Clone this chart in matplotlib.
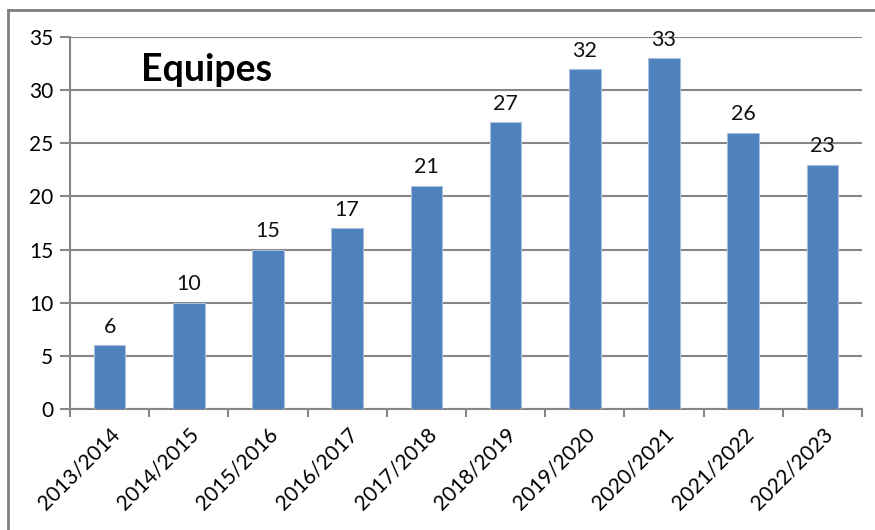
import matplotlib.pyplot as plt
from matplotlib.lines import Line2D
import numpy as np

seasons = ["2013/2014", "2014/2015", "2015/2016", "2016/2017", "2017/2018",
           "2018/2019", "2019/2020", "2020/2021", "2021/2022", "2022/2023"]
teams = [6, 10, 15, 17, 21, 27, 32, 33, 26, 23]

plt.rcParams['font.family'] = ['Lato', 'DejaVu Sans']

fig = plt.figure(figsize=(8.75, 5.3), dpi=100)
ax = fig.add_axes([70 / 875, 1 - 409 / 530, 792 / 875, 372 / 530])

x = np.arange(len(seasons))
bars = ax.bar(x, teams, width=0.4, color="#4F81BD", edgecolor="#A7C0DE",
              linewidth=0.8, zorder=3)

for xi, v in zip(x, teams):
    ax.annotate(str(v), (xi, v), xytext=(0, 6), textcoords="offset points",
                ha="center", va="bottom", fontsize=15.5, color="#111111")

ax.set_xlim(-0.5, len(seasons) - 0.5)
ax.set_ylim(0, 35)
ax.set_yticks(range(0, 36, 5))
ax.yaxis.grid(True, color="#868686", linewidth=1.5, zorder=0)
ax.set_axisbelow(True)

# ticks between categories, labels at centers
ax.set_xticks(np.arange(-0.5, len(seasons), 1.0))
ax.set_xticklabels([])
ax.set_xticks(x, minor=True)
ax.set_xticklabels(seasons, minor=True, rotation=45, ha="right", va="top",
                   rotation_mode="anchor", fontsize=15)
ax.tick_params(axis="x", which="minor", length=0, pad=11)
ax.tick_params(axis="x", which="major", length=6, width=1.5, color="#868686")
ax.tick_params(axis="y", length=7, width=1.5, color="#868686", labelsize=15, pad=5)

for s in ["top", "right"]:
    ax.spines[s].set_visible(False)
for s in ["left", "bottom"]:
    ax.spines[s].set_color("#868686")
    ax.spines[s].set_linewidth(1.5)

ax.text(0.172, 0.91, "Equipes", transform=ax.transAxes, ha="center", va="center",
        fontsize=27, fontweight="bold")

# outer chart frame (only left and top edges are visible)
fig.add_artist(Line2D([8 / 875, 8 / 875], [0, 1 - 10 / 530], color="#7F7F7F", linewidth=2))
fig.add_artist(Line2D([8 / 875, 1], [1 - 10 / 530, 1 - 10 / 530], color="#7F7F7F", linewidth=2))

fig.savefig("out.png", dpi=100)
